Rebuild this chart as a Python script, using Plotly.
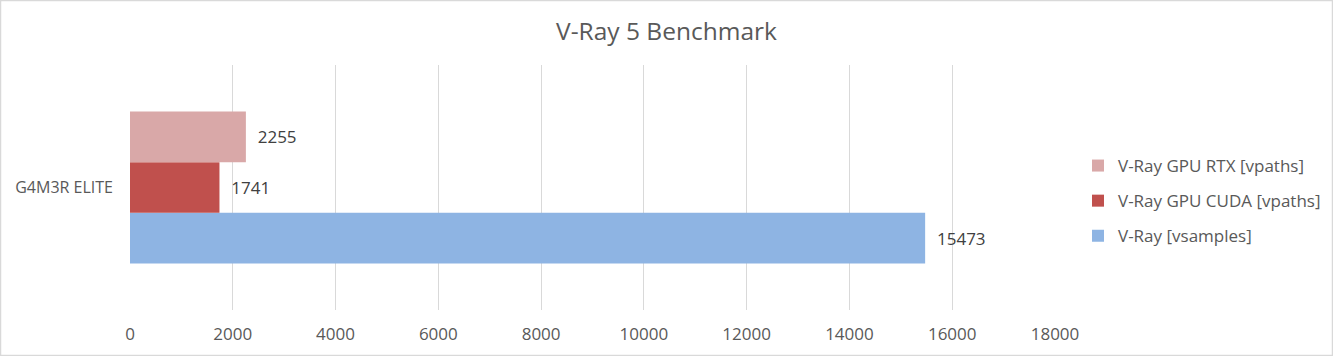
import plotly.graph_objects as go

categories = ["G4M3R ELITE"]
series_names = ["V-Ray [vsamples]", "V-Ray GPU CUDA [vpaths]", "V-Ray GPU RTX [vpaths]"]
vray_vsamples = [15473]
gpu_cuda = [1741]
gpu_rtx = [2255]
colors = ["#8EB4E3", "#C0504D", "#D9A8A8"]
legend_ranks = [3, 2, 1]
x_ticks = [0, 2000, 4000, 6000, 8000, 10000, 12000, 14000, 16000, 18000]

W, H = 1333, 356
ML, MR, MT, MB = 130, 278, 65, 46
PW, PH = W - ML - MR, H - MT - MB

fig = go.Figure()
for name, vals, col, rank in zip(series_names, [vray_vsamples, gpu_cuda, gpu_rtx], colors, legend_ranks):
    fig.add_trace(go.Bar(
        y=categories, x=vals, name=name, orientation="h", legendgroup=name, legendrank=rank,
        marker=dict(color=col, line=dict(width=0)),
        text=["\u00a0\u00a0" + str(v) for v in vals], textposition="outside",
        textfont=dict(size=17, color="#404040", family="Open Sans"),
        cliponaxis=False,
    ))

# outer border of the chart area
fig.add_shape(type="rect", xref="paper", yref="paper",
              x0=(0.5 - ML) / PW, x1=(W - 0.5 - ML) / PW,
              y0=-(MB - 0.5) / PH, y1=1 + (MT - 0.5) / PH,
              line=dict(color="#D9D9D9", width=1.5), layer="below")

fig.update_layout(
    width=W, height=H,
    margin=dict(l=ML, r=MR, t=MT, b=MB, autoexpand=False),
    paper_bgcolor="white", plot_bgcolor="white",
    barmode="group", bargap=0.38, bargroupgap=0,
    title=dict(text="V-Ray 5 Benchmark", x=0.5, xref="container", xanchor="center",
               y=1 - 31 / H, yanchor="middle",
               font=dict(family="Open Sans", size=24.5, color="#595959")),
    font=dict(family="Open Sans", color="#595959"),
    xaxis=dict(range=[0, 18000], tickvals=x_ticks, ticktext=[str(t) for t in x_ticks],
               showgrid=True, gridcolor="#D9D9D9", gridwidth=1,
               zeroline=False, showline=False, ticks="", tickfont=dict(size=17, color="#595959"),
               ticklabelstandoff=12),
    yaxis=dict(showgrid=False, zeroline=False, showline=False, ticks="",
               tickfont=dict(size=16, color="#595959"), ticklabelstandoff=16),
    legend=dict(x=(1078 - ML) / PW, y=(H - MB - 201) / PH, yanchor="middle", xanchor="left",
                traceorder="grouped", font=dict(size=17, color="#595959"),
                itemwidth=30, tracegroupgap=10),
    showlegend=True,
)
fig.write_html("out.html", config={"displayModeBar": False},
               post_script="document.body.style.margin='0';document.body.style.padding='0';")
